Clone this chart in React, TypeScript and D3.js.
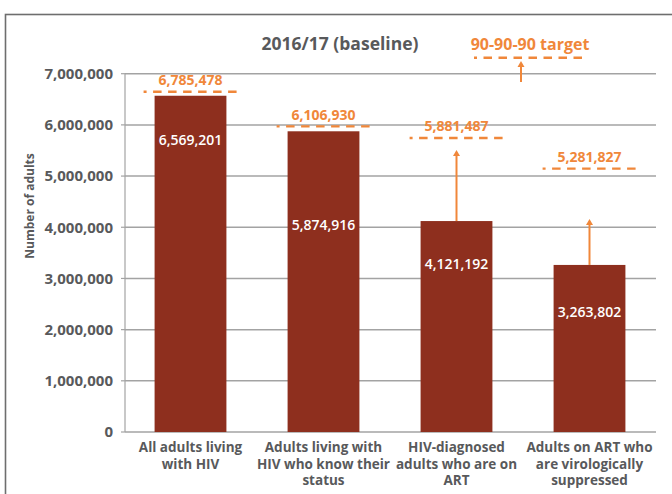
import * as d3 from "d3";

/* ------------------------------------------------------------------ */
/*  Data                                                               */
/* ------------------------------------------------------------------ */

const CATEGORIES = [
  ["All adults living", "with HIV"],
  ["Adults living with", "HIV who know their", "status"],
  ["HIV-diagnosed", "adults who are on", "ART"],
  ["Adults on ART who", "are virologically", "suppressed"],
];
const BASELINE = [6569201, 5874916, 4121192, 3263802];
const TARGET = [6785478, 6106930, 5881487, 5281827];
const ARROW_TIP: (number | null)[] = [null, null, 5510000, 4160000];
const Y_TICKS = [0, 1000000, 2000000, 3000000, 4000000, 5000000, 6000000, 7000000];

const TITLE = "2016/17 (baseline)";
const LEGEND = "90-90-90 target";
const Y_TITLE = "Number of adults";

/* ------------------------------------------------------------------ */
/*  Theme tokens                                                       */
/* ------------------------------------------------------------------ */

const W = 672;
const H = 494;
const BAR = "#8e2f1e";
const ORANGE = "#f0873a";
const TEXT = "#58595b";
const GRID = "#a3a3a3";
const FONT = "'Open Sans', 'Noto Sans', sans-serif";

// label baseline below the bar top, per bar
const LABEL_DY = [49, 99, 48, 52];

const fmt = d3.format(",");

export default function App() {
  const keys = CATEGORIES.map((c) => c.join(" "));

  const x = d3
    .scaleBand<string>()
    .domain(keys)
    .range([124, 656])
    .paddingInner(0.46)
    .paddingOuter(0.23);

  const y = d3.scaleLinear().domain([0, 7000000]).range([432, 73.7]);

  const left = 125;
  const right = 656;
  const bw = x.bandwidth();

  /* target marker: dashed line drawn a little under its value */
  const targetY = (v: number) => y(v) + 7;

  const arrowHead = (cx: number, tipY: number) =>
    `M${cx - 3.5},${tipY + 6} L${cx},${tipY} L${cx + 3.5},${tipY + 6} Z`;

  const legendX = 530;

  return (
    <svg
      width={W}
      height={H}
      style={{ position: "absolute", left: 0, top: 0, background: "#fff" }}
      fontFamily={FONT}
    >
      {/* outer frame */}
      <rect x={5.5} y={14.5} width={W + 20} height={H + 20} fill="none" stroke="#6e6e6e" strokeWidth={1.6} />

      {/* gridlines + y ticks */}
      {Y_TICKS.map((t) => (
        <g key={t}>
          <line x1={left} x2={right} y1={y(t)} y2={y(t)} stroke={GRID} strokeWidth={1.5} />
          <line x1={left - 4} x2={left} y1={y(t)} y2={y(t)} stroke={GRID} strokeWidth={1.2} />
          <text
            x={113}
            y={y(t)}
            dy="0.36em"
            textAnchor="end"
            fontSize={15}
            fontWeight={700}
            fill={TEXT}
          >
            {fmt(t)}
          </text>
        </g>
      ))}
      <line x1={left} x2={left} y1={y(0)} y2={y(7000000)} stroke={GRID} strokeWidth={1.2} />

      {/* y-axis title */}
      <text
        transform={`translate(34,206) rotate(-90)`}
        textAnchor="middle"
        fontSize={12}
        fontWeight={700}
        fill={TEXT}
      >
        {Y_TITLE}
      </text>

      {/* chart title */}
      <text x={340} y={50} textAnchor="middle" fontSize={17.5} fontWeight={700} fill={TEXT}>
        {TITLE}
      </text>

      {/* legend */}
      <text x={legendX} y={50} textAnchor="middle" fontSize={16} fontWeight={700} fill={ORANGE}>
        {LEGEND}
      </text>
      <line
        x1={474}
        x2={588}
        y1={57.7}
        y2={57.7}
        stroke={ORANGE}
        strokeWidth={2.4}
        strokeDasharray="8.5 6.5"
        strokeDashoffset={5.5}
      />
      <line x1={521} x2={521} y1={82} y2={66} stroke={ORANGE} strokeWidth={2} />
      <path d={arrowHead(521, 61)} fill={ORANGE} />

      {/* bars */}
      {BASELINE.map((v, i) => {
        const bx = x(keys[i])!;
        const cx = bx + bw / 2;
        const ty = targetY(TARGET[i]);
        const tip = ARROW_TIP[i];
        return (
          <g key={keys[i]}>
            <rect x={bx} y={y(v)} width={bw} height={y(0) - y(v)} fill={BAR} />
            <text
              x={cx}
              y={y(v) + LABEL_DY[i]}
              textAnchor="middle"
              fontSize={14}
              fontWeight={600}
              fill="#fff"
            >
              {fmt(v)}
            </text>

            <line
              x1={bx - 11}
              x2={bx + bw + 11}
              y1={ty}
              y2={ty}
              stroke={ORANGE}
              strokeWidth={2.4}
              strokeDasharray="8.5 6.5"
              strokeDashoffset={5.5}
            />
            <text
              x={cx}
              y={ty - 6.5}
              textAnchor="middle"
              fontSize={14}
              fontWeight={700}
              fill={ORANGE}
            >
              {fmt(TARGET[i])}
            </text>

            {tip != null && (
              <g>
                <line x1={cx} x2={cx} y1={y(v)} y2={y(tip) + 5} stroke={ORANGE} strokeWidth={2} />
                <path d={arrowHead(cx, y(tip))} fill={ORANGE} />
              </g>
            )}
          </g>
        );
      })}

      {/* category labels */}
      {CATEGORIES.map((lines, i) => (
        <text
          key={keys[i]}
          x={x(keys[i])! + bw / 2}
          textAnchor="middle"
          fontSize={13.5}
          fontWeight={700}
          fill={TEXT}
        >
          {lines.map((l, j) => (
            <tspan key={j} x={x(keys[i])! + bw / 2} y={452 + j * 16.5}>
              {l}
            </tspan>
          ))}
        </text>
      ))}
    </svg>
  );
}
